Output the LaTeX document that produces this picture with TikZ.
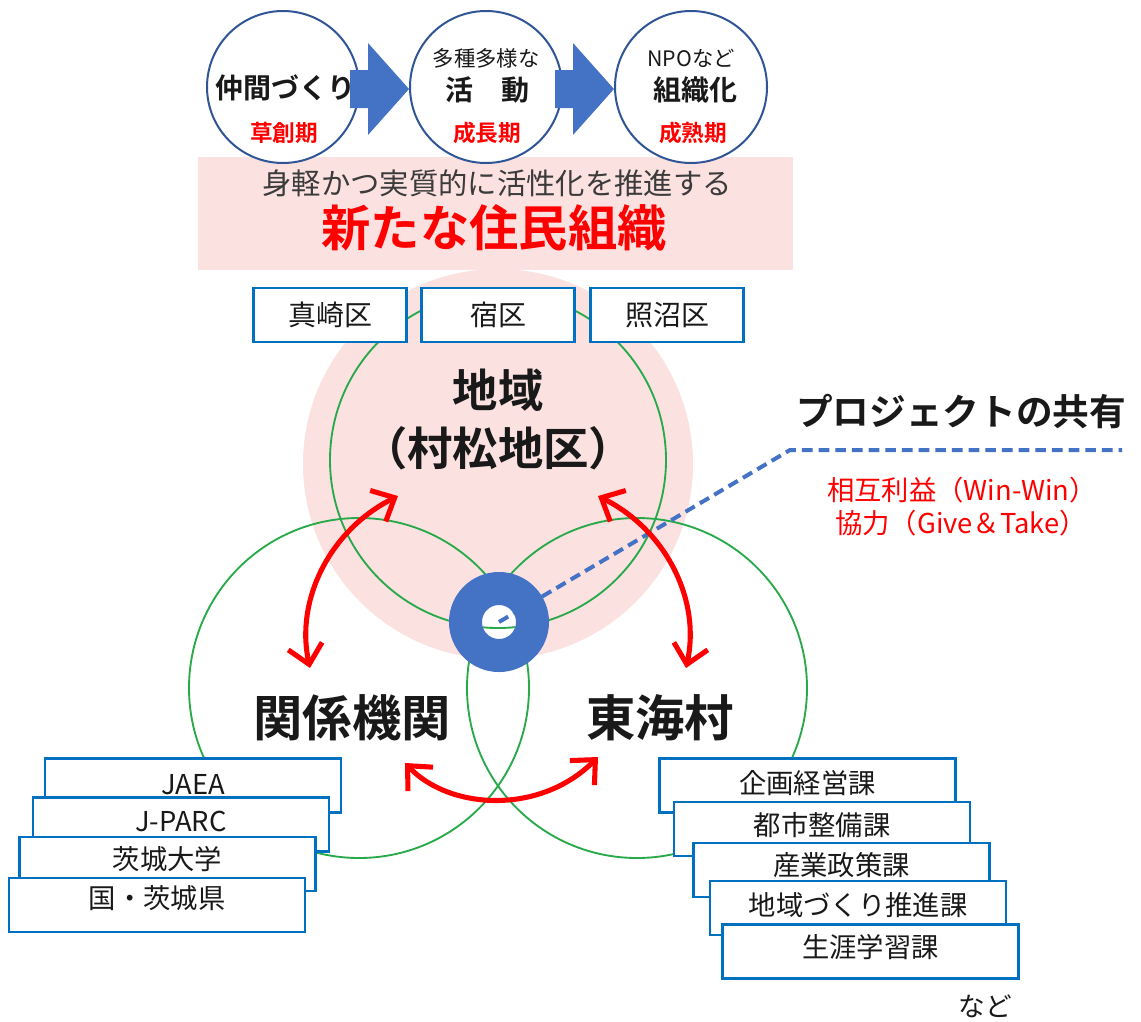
\documentclass[tikz,border=0pt]{standalone}
\usepackage{fontspec}
\setmainfont{Noto Sans CJK JP}[BoldFont={Noto Sans CJK JP Bold}]
\usetikzlibrary{arrows.meta}
\definecolor{pinkbg}{RGB}{252,225,225}
\definecolor{grn}{RGB}{40,170,75}
\definecolor{bbox}{RGB}{0,112,192}
\definecolor{cblue}{RGB}{47,85,151}
\definecolor{ablue}{RGB}{68,114,196}
\definecolor{txt}{RGB}{25,25,25}
\definecolor{redt}{RGB}{255,0,0}
\newcommand{\fsz}[1]{\fontsize{#1}{#1}\selectfont}
\begin{document}
\begin{tikzpicture}[x=0.75pt,y=-0.75pt,
  stagecirc/.style={circle,draw=cblue,line width=1.5pt,fill=white,minimum size=114pt,inner sep=0pt},
  gcirc/.style={circle,draw=grn,line width=1.4pt,minimum size=#1,inner sep=0pt},
  topbox/.style={draw=bbox,line width=1.6pt,fill=white,minimum width=114.75pt,minimum height=41pt,inner sep=0pt,text=txt,font=\fsz{21pt}},
  sidebox/.style={draw=bbox,line width=1.6pt,fill=white,minimum width=222pt,minimum height=40.5pt,inner sep=0pt},
  boxtxt/.style={text=txt,font=\fsz{20.5pt},inner sep=0pt},
  bigbold/.style={text=txt,font=\bfseries\fsz{#1},inner sep=0pt},
  redarrow/.style={draw=redt,line width=3.8pt,{Straight Barb[length=14pt,width=26pt]}-{Straight Barb[length=14pt,width=26pt]}},
  dashline/.style={draw=ablue,line width=3pt,dash pattern=on 8pt off 4.5pt},
  blockarrow/.style={fill=ablue,draw=none}
]
\useasboundingbox (0,0) rectangle (1141,1021);

% pink banner
\node[fill=pinkbg,minimum width=446.25pt,minimum height=84.75pt,inner sep=0pt] (banner) at (495.5,213.5) {};

% stage circles
\node[stagecirc] (c1) at (283,87) {};
\node[stagecirc] (c2) at (486,87) {};
\node[stagecirc] (c3) at (691,87) {};

% block arrows
\fill[blockarrow] (350,70) -- (368,70) -- (368,43) -- (409,89) -- (368,135) -- (368,108) -- (350,108) -- cycle;
\fill[blockarrow] (555,70) -- (573,70) -- (573,43) -- (614,89) -- (573,135) -- (573,108) -- (555,108) -- cycle;

% stage texts
\node[bigbold=21pt] (t1) at (285,88) {仲間づくり};
\node[text=redt,font=\bfseries\fsz{17pt}] (p1) at (284,133) {草創期};
\node[text=txt,font=\fsz{16pt}] (s2) at (486,58) {多種多様な};
\node[bigbold=21pt] (t2) at (487,90) {活　動};
\node[text=redt,font=\bfseries\fsz{17pt}] (p2) at (487,133) {成長期};
\node[text=txt,font=\fsz{16pt}] (s3) at (691,58) {NPOなど};
\node[bigbold=21pt] (t3) at (695,90) {組織化};
\node[text=redt,font=\bfseries\fsz{17pt}] (p3) at (693,133) {成熟期};

% banner texts
\node[text=txt!85,font=\fsz{22pt}] (bt1) at (497,183) {身軽かつ実質的に活性化を推進する};
\node[text=redt,font=\bfseries\fsz{37pt}] (bt2) at (494,228) {新たな住民組織};

% big pink circle
\node[circle,fill=pinkbg,minimum size=292.5pt,inner sep=0pt] (pc) at (498,464) {};

% green circles
\node[gcirc=252pt] (gtop) at (498,460) {};
\node[gcirc=255pt] (gleft) at (359,688) {};
\node[gcirc=255pt] (gright) at (637,688) {};

% district boxes
\node[topbox] (d1) at (330,315) {真崎区};
\node[topbox] (d2) at (498,315) {宿区};
\node[topbox] (d3) at (667,315) {照沼区};

% main labels
\node[bigbold=34pt] (l1) at (498,390) {地域};
\node[bigbold=34pt] (l2) at (498,448) {（村松地区）};
\node[bigbold=37pt] (l3) at (352,718) {関係機関};
\node[bigbold=37pt] (l4) at (660,718) {東海村};

% left boxes
\node[sidebox] (a1) at (193,785.5) {};
\node[boxtxt] at ([yshift=1pt]a1.center) {JAEA};
\node[sidebox] (a2) at (181,824.5) {};
\node[boxtxt] at ([yshift=2pt]a2.center) {J-PARC};
\node[sidebox] (a3) at (167.5,864) {};
\node[boxtxt] at ([yshift=4pt]a3.center) {茨城大学};
\node[sidebox] (a4) at (157,905) {};
\node[boxtxt] at ([yshift=5pt]a4.center) {国・茨城県};

% right boxes
\node[sidebox] (r1) at (807.5,785.5) {};
\node[boxtxt] at ([yshift=2pt]r1.center) {企画経営課};
\node[sidebox] (r2) at (822,829) {};
\node[boxtxt] at ([yshift=3pt]r2.center) {都市整備課};
\node[sidebox] (r3) at (841.5,870) {};
\node[boxtxt] at ([yshift=4pt]r3.center) {産業政策課};
\node[sidebox] (r4) at (858,908) {};
\node[boxtxt] at ([yshift=2.5pt]r4.center) {地域づくり推進課};
\node[sidebox] (r5) at (870.5,951.5) {};
\node[boxtxt] at ([yshift=3pt]r5.center) {生涯学習課};
\node[text=txt,font=\fsz{20pt},inner sep=0pt] (nado) at (985,1006) {など};

% ring
\node[circle,draw=ablue,line width=24.75pt,fill=white,minimum size=50.25pt,inner sep=0pt] (ring) at (499,622) {};
\begin{scope}
\clip (ring.center) circle[radius=17];
\node[gcirc=252pt] at (gtop.center) {};
\end{scope}

% dashed leader
\coordinate (pa) at (790,450);
\coordinate (pb) at (1122,450);
\draw[dashline] (ring.center) -- (pa) -- (pb);

% project texts
\node[bigbold=27.5pt] (proj) at (961,412) {プロジェクトの共有};
\node[text=redt,font=\fsz{20.5pt}] (m1) at (962,490) {相互利益（Win-Win）};
\node[text=redt,font=\fsz{20.5pt}] (m2) at (961,523) {協力（Give＆Take）};

% red double arrows
\coordinate (ua) at (398,496);
\coordinate (ub) at (310,668);
\coordinate (va) at (598,496);
\coordinate (vb) at (686,668);
\coordinate (wa) at (405,763);
\coordinate (wb) at (598,757);
\draw[redarrow] (ua) .. controls (330,530) and (295,600) .. (ub);
\draw[redarrow] (va) .. controls (666,530) and (701,600) .. (vb);
\draw[redarrow] (wa) .. controls (450,810) and (540,815) .. (wb);
\end{tikzpicture}
\end{document}
